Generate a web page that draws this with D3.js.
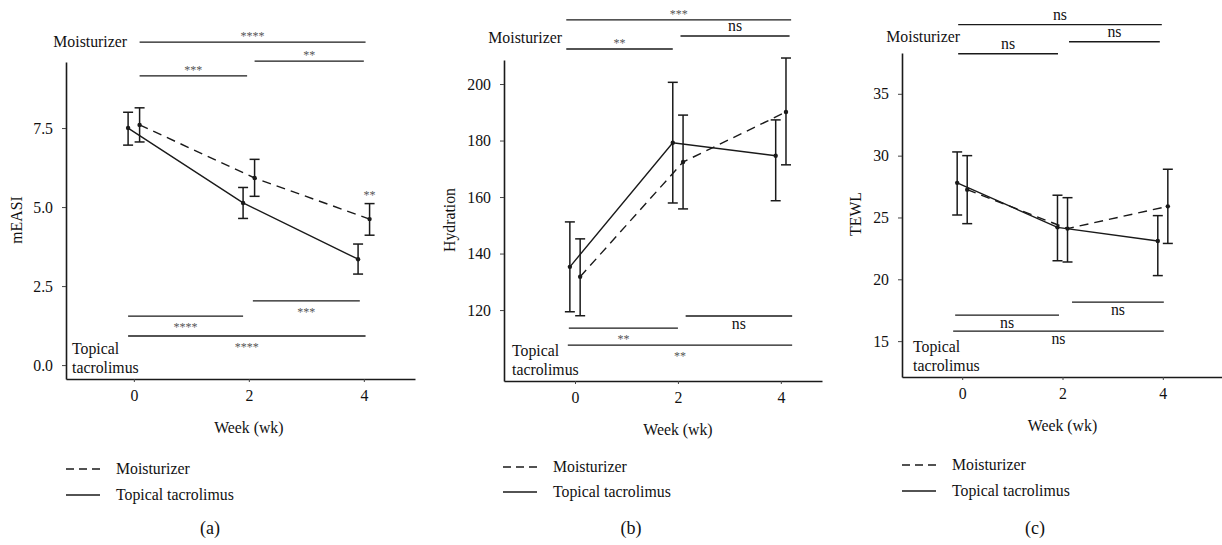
<!DOCTYPE html>
<html><head><meta charset="utf-8">
<script src="https://cdn.jsdelivr.net/npm/d3@7"></script>
<style>
body{margin:0;background:#fff;}
svg, svg text{font-family:"Liberation Serif","DejaVu Serif",serif;}
</style></head>
<body><svg id="chart" width="1222" height="545" font-family="Liberation Serif"></svg>
<script>
// ---------- data ----------
const weeks = [0, 2, 4];
const seriesNames = ["Moisturizer", "Topical tacrolimus"];
const xTicks = [0, 2, 4];

// (a) mEASI
const measiMoist = [7.60, 5.92, 4.62];
const measiMoistLo = [7.06, 5.34, 4.11];
const measiMoistHi = [8.14, 6.51, 5.11];
const measiTacro = [7.50, 5.13, 3.35];
const measiTacroLo = [6.96, 4.64, 2.88];
const measiTacroHi = [8.00, 5.62, 3.83];
const measiTicks = [0, 2.5, 5, 7.5];

// (b) Hydration
const hydMoist = [131.8, 172.4, 190.1];
const hydMoistLo = [118.0, 155.8, 171.4];
const hydMoistHi = [145.2, 189.0, 209.2];
const hydTacro = [135.3, 179.2, 174.6];
const hydTacroLo = [119.4, 157.9, 158.7];
const hydTacroHi = [151.2, 200.6, 187.3];
const hydTicks = [120, 140, 160, 180, 200];

// (c) TEWL
const tewlMoist = [27.25, 24.1, 25.9];
const tewlMoistLo = [24.5, 21.4, 22.9];
const tewlMoistHi = [30.0, 26.6, 28.9];
const tewlTacro = [27.8, 24.2, 23.1];
const tewlTacroLo = [25.2, 21.5, 20.3];
const tewlTacroHi = [30.3, 26.8, 25.15];
const tewlTicks = [15, 20, 25, 30, 35];

// significance comparisons: [from week, to week, label]
const measiMoistSig = [[0.1, 4.03, "****"], [2.1, 4.0, "**"], [0.1, 1.97, "***"]];
const measiTacroSig = [[2.07, 3.93, "***"], [-0.1, 1.9, "****"], [-0.1, 4.03, "****"]];
const hydMoistSig = [[-0.17, 4.2, "***"], [2.05, 4.17, "ns"], [-0.17, 1.9, "**"]];
const hydTacroSig = [[2.15, 4.22, "ns"], [-0.12, 2.0, "**"], [-0.14, 4.22, "**"]];
const tewlMoistSig = [[-0.08, 3.98, "ns"], [2.13, 3.94, "ns"], [-0.08, 1.91, "ns"]];
const tewlTacroSig = [[2.19, 4.02, "ns"], [-0.14, 1.93, "ns"], [-0.18, 4.02, "ns"]];

// ---------- layout ----------
const panels = [
  {tag:"(a)", ytitle:"mEASI", moist:[measiMoist,measiMoistLo,measiMoistHi], tacro:[measiTacro,measiTacroLo,measiTacroHi],
   yTicks:measiTicks, fmt:d3.format(".1f"), xDom:[-1.18,4.89], xRange:[66,415], yDom:[-0.44,9.59], yRange:[379,62],
   topSig:measiMoistSig, topLevels:[10.22,9.62,9.15], botSig:measiTacroSig, botLevels:[2.03,1.55,0.92],
   moistLabel:[127,47], tacroLabelX:72, ytitleX:22, ytitleY:220, legX:66, legY:[469,495], tagX:210,
   extra:{w:4.1, v:5.30, label:"**"}},
  {tag:"(b)", ytitle:"Hydration", moist:[hydMoist,hydMoistLo,hydMoistHi], tacro:[hydTacro,hydTacroLo,hydTacroHi],
   yTicks:hydTicks, fmt:d3.format("d"), xDom:[-1.38,4.8], xRange:[504,822], yDom:[94.9,208.5], yRange:[381,60],
   topSig:hydMoistSig, topLevels:[222.7,217.0,212.4], botSig:hydTacroSig, botLevels:[117.9,113.6,107.6],
   moistLabel:[562,43], tacroLabelX:512, ytitleX:455, ytitleY:220, legX:503, legY:[467,492], tagX:631},
  {tag:"(c)", ytitle:"TEWL", moist:[tewlMoist,tewlMoistLo,tewlMoistHi], tacro:[tewlTacro,tewlTacroLo,tewlTacroHi],
   yTicks:tewlTicks, fmt:d3.format("d"), xDom:[-1.2,5.18], xRange:[902,1222], yDom:[12.1,38.3], yRange:[377,53],
   topSig:tewlMoistSig, topLevels:[40.59,39.21,38.24], botSig:tewlTacroSig, botLevels:[18.16,17.11,15.81],
   moistLabel:[960,42], tacroLabelX:913, ytitleX:861, ytitleY:214, legX:902, legY:[465,491], tagX:1035}
];

const svg = d3.select("#chart");
const FONT = "Liberation Serif";
const ink = "#1a1a1a";
const textInk = "#111";
const DASH = "9,6";
const dodge = 0.1;
const FS = 15.8;

panels.forEach(p => {
  const x = d3.scaleLinear().domain(p.xDom).range(p.xRange);
  const y = d3.scaleLinear().domain(p.yDom).range(p.yRange);
  const g = svg.append("g").attr("font-family", FONT);
  const txt = (sel) => sel.attr("font-family", FONT);

  // axes
  const yAx = g.append("g").attr("transform", `translate(${p.xRange[0]},0)`)
    .call(d3.axisLeft(y).tickValues(p.yTicks).tickFormat(p.fmt).tickSize(4).tickPadding(9).tickSizeOuter(0));
  const xAx = g.append("g").attr("transform", `translate(0,${p.yRange[0]})`)
    .call(d3.axisBottom(x).tickValues(xTicks).tickFormat(d3.format("d")).tickSize(3).tickPadding(8).tickSizeOuter(0));
  [yAx, xAx].forEach(a => {
    a.attr("font-family", FONT).attr("font-size", FS);
    a.select(".domain").attr("stroke", ink).attr("stroke-width", 1.6);
    a.selectAll(".tick line").attr("stroke", "#444").attr("stroke-width", 1);
    a.selectAll("text").attr("font-size", FS).attr("fill", textInk).attr("font-family", FONT);
  });

  // axis titles
  txt(g.append("text")).attr("x", (x(0)+x(4))/2).attr("y", p.yRange[0]+54).attr("text-anchor","middle")
    .attr("font-size", FS).attr("fill", textInk).text("Week (wk)");
  txt(g.append("text")).attr("transform", `translate(${p.ytitleX},${p.ytitleY}) rotate(-90)`).attr("text-anchor","middle")
    .attr("font-size", FS).attr("fill", textInk).text(p.ytitle);

  // series
  const series = [
    {vals:p.moist, off:dodge, dash:DASH},
    {vals:p.tacro, off:-dodge, dash:null}
  ];
  series.forEach(s => {
    const pts = weeks.map((w,i) => ({w:w+s.off, v:s.vals[0][i], lo:s.vals[1][i], hi:s.vals[2][i]}));
    const line = d3.line().x(d => x(d.w)).y(d => y(d.v));
    g.append("path").datum(pts).attr("d", line).attr("fill","none").attr("stroke", ink)
      .attr("stroke-width", 1.4).attr("stroke-dasharray", s.dash);
    const eb = g.append("g").attr("stroke", ink).attr("stroke-width", 1.5);
    pts.forEach(d => {
      eb.append("line").attr("x1", x(d.w)).attr("x2", x(d.w)).attr("y1", y(d.lo)).attr("y2", y(d.hi));
      eb.append("line").attr("x1", x(d.w)-5).attr("x2", x(d.w)+5).attr("y1", y(d.lo)).attr("y2", y(d.lo));
      eb.append("line").attr("x1", x(d.w)-5).attr("x2", x(d.w)+5).attr("y1", y(d.hi)).attr("y2", y(d.hi));
    });
    g.append("g").selectAll("circle").data(pts).join("circle")
      .attr("cx", d => x(d.w)).attr("cy", d => y(d.v)).attr("r", 2.2).attr("fill", ink);
  });

  // significance brackets
  function drawSig(list, levels, top) {
    list.forEach((c, i) => {
      const yy = y(levels[i]);
      g.append("line").attr("x1", x(c[0])).attr("x2", x(c[1])).attr("y1", yy).attr("y2", yy)
        .attr("stroke", ink).attr("stroke-width", 1.3);
      const isNs = c[2] === "ns";
      const ty = top ? (isNs ? yy - 5 : yy - 2) : (isNs ? yy + 13 : yy + 15);
      txt(g.append("text")).attr("x", x((c[0]+c[1])/2)).attr("y", ty).attr("text-anchor","middle")
        .attr("font-size", isNs ? FS : 12).attr("fill", isNs ? textInk : "#555").text(c[2]);
    });
  }
  drawSig(p.topSig, p.topLevels, true);
  drawSig(p.botSig, p.botLevels, false);

  if (p.extra) {
    txt(g.append("text")).attr("x", x(p.extra.w)).attr("y", y(p.extra.v)+1).attr("text-anchor","middle")
      .attr("font-size", 12).attr("fill", "#555").text(p.extra.label);
  }

  // group labels
  txt(g.append("text")).attr("x", p.moistLabel[0]).attr("y", p.moistLabel[1]).attr("text-anchor","end")
    .attr("font-size", FS).attr("fill", textInk).text(seriesNames[0]);
  const tl = txt(g.append("text")).attr("x", p.tacroLabelX).attr("font-size", FS).attr("fill", textInk);
  tl.append("tspan").attr("x", p.tacroLabelX).attr("y", p.yRange[0]-25).text("Topical");
  tl.append("tspan").attr("x", p.tacroLabelX).attr("y", p.yRange[0]-6).text("tacrolimus");

  // legend
  seriesNames.forEach((n, i) => {
    g.append("line").attr("x1", p.legX).attr("x2", p.legX+34).attr("y1", p.legY[i]).attr("y2", p.legY[i])
      .attr("stroke", ink).attr("stroke-width", 1.3).attr("stroke-dasharray", i === 0 ? "8,5" : null);
    txt(g.append("text")).attr("x", p.legX+50).attr("y", p.legY[i]+5).attr("font-size", FS).attr("fill", textInk).text(n);
  });

  // panel tag
  txt(g.append("text")).attr("x", p.tagX).attr("y", 534).attr("text-anchor","middle")
    .attr("font-size", 18).attr("fill", textInk).text(p.tag);
});
</script></body></html>
